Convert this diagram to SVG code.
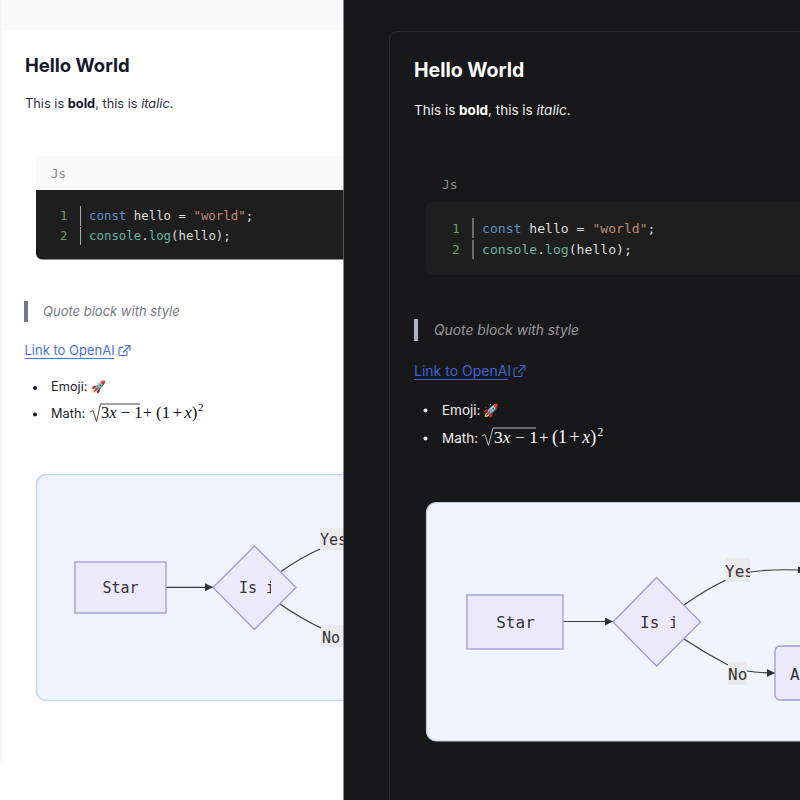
<svg xmlns="http://www.w3.org/2000/svg" width="800" height="800" viewBox="0 0 800 800">
<style>
text{font-family:"Inter","Noto Sans",sans-serif;white-space:pre}
.mono{font-family:"DejaVu Sans Mono","Liberation Mono",monospace}
.math{font-family:"Liberation Serif","DejaVu Serif",serif}
.mvar{font-style:italic}
.node{fill:#ece9fb;stroke:#a396dc;stroke-width:1.3}
.edge{fill:none;stroke:#3c3c3c;stroke-width:1.2}
.lbl{fill:#eaeaea}
.nt{fill:#333;font-size:15px}
.num{fill:#6f9a5f}.kw{fill:#5f93c8}.fn{fill:#66b5a0}.str{fill:#c08a70}
</style>
<defs>
<marker id="arr" markerWidth="10" markerHeight="10" refX="8" refY="4" orient="auto" markerUnits="userSpaceOnUse"><path d="M0 0L8 4L0 8z" fill="#333"/></marker>
<clipPath id="clipLeft"><rect x="0" y="0" width="343.5" height="800"/></clipPath>
<clipPath id="clipIsL"><rect x="230" y="570" width="41" height="40"/></clipPath>
<clipPath id="clipIsR"><rect x="640" y="605" width="35" height="40"/></clipPath>
<clipPath id="clipYesR"><rect x="720" y="555" width="30" height="30"/></clipPath>
</defs>
<rect id="page" width="800" height="800" fill="#fff"/>
<rect x="0" y="0" width="344" height="30" fill="#f9f9fa"/>
<rect x="0" y="0" width="2" height="761" fill="#f3f3f4"/>
<g id="light-panel" clip-path="url(#clipLeft)">
<g id="light-text">
<text x="25" y="72" font-size="18.500" font-weight="700" fill="#14182b">Hello World</text>
<text x="25" y="108" font-size="12.800" fill="#2a2d3a">This is <tspan font-weight="700" fill="#14182b">bold</tspan>, this is <tspan font-style="italic">italic</tspan>.</text>
</g>
<g id="light-code">
<path d="M36 190V162a6 6 0 0 1 6-6H344V190z" fill="#f9f9fa"/>
<text class="mono" x="51" y="178" font-size="12.400" fill="#8a8a8a">Js</text>
<path d="M36 190H344V259.500H42a6 6 0 0 1-6-6z" fill="#1e1e1e"/>
<text class="mono num" x="60" y="220" font-size="12.400">1</text>
<text class="mono num" x="60" y="240" font-size="12.400">2</text>
<path d="M80.500 206V226M80.500 227V245" stroke="#aaa" stroke-width="1" fill="none"/>
<text class="mono" x="89" y="220" font-size="12.400" fill="#ddd"><tspan class="kw">const</tspan> hello = <tspan class="str">"world"</tspan>;</text>
<text class="mono" x="89" y="240" font-size="12.400" fill="#ddd"><tspan class="fn">console</tspan>.<tspan class="fn">log</tspan>(hello);</text>
</g>
<g id="light-rich">
<rect x="24" y="301" width="4" height="21" fill="#6f788c"/>
<text x="43" y="316" font-size="13" font-style="italic" fill="#767a82">Quote block with style</text>
<text x="24.500" y="355" font-size="13" fill="#4a72de">Link to OpenAI</text>
<rect x="24.500" y="358" width="89.500" height="1" fill="#4a72de"/>
<path d="M127 351v3.500a1 1 0 0 1-1 1h-6a1 1 0 0 1-1-1v-6a1 1 0 0 1 1-1h3.500M124.500 345.500h5.500v5.500M130 345.500L123 352.500" fill="none" stroke="#4a72de" stroke-width="1.100"/>
<circle cx="35" cy="388" r="2" fill="#14182b"/>
<text x="51" y="391" font-size="12.800" fill="#22242e">Emoji:</text>
<text x="90.500" y="391" font-size="12">🚀</text>
<circle cx="35" cy="414.500" r="2" fill="#14182b"/>
<text x="51" y="418" font-size="12.800" fill="#22242e">Math:</text>
<path d="M90 412l3 -1.500l3.500 11l4 -17.500H140" fill="none" stroke="#333" stroke-width="0.900"/>
<text class="math" x="101" y="418" font-size="16.500" fill="#111">3<tspan class="mvar">x</tspan> − 1</text>
<text class="math" x="143" y="418" font-size="16" fill="#111">+</text>
<text class="math" x="156" y="418" font-size="17" word-spacing="-2" fill="#111">(1 + <tspan class="mvar">x</tspan>)</text>
<text class="math" x="198" y="411" font-size="11" fill="#111">2</text>
</g>
<g id="light-diagram">
<rect x="36.500" y="474.500" width="340" height="226" rx="10" fill="#eff3fe" stroke="#c5d5f0" stroke-width="1.500"/>
<g id="connectors-light">
<path class="edge" d="M166 587.300H213" marker-end="url(#arr)"/>
<path class="edge" d="M281 571.500Q300 558 320 549"/>
<path class="edge" d="M280 604Q300 618 323 629"/>
</g>
<g id="l-start"><rect class="node" x="75" y="562" width="91" height="51"/><text class="mono nt" x="120.500" y="593" text-anchor="middle">Star</text></g>
<g id="l-decision"><path class="node" d="M213 587.500L254.500 546L296 587.500L254.500 629.500z"/><text class="mono nt" x="239" y="593" clip-path="url(#clipIsL)">Is i</text></g>
<g id="l-yes"><rect class="lbl" x="320" y="528" width="30" height="22"/><text class="mono nt" x="320" y="545">Yes</text></g>
<g id="l-no"><rect class="lbl" x="321" y="625" width="30" height="22"/><text class="mono nt" x="322" y="643">No</text></g>
</g>
</g>
<rect id="dark-panel" x="343.500" y="0" width="456.500" height="800" fill="#18181a"/>
<rect x="389.500" y="31.500" width="440" height="800" rx="8" fill="#18181a" stroke="#2b2b2e"/>
<g id="dark-text">
<text x="414" y="77" font-size="19.500" font-weight="700" fill="#fff">Hello World</text>
<text x="414" y="115" font-size="13.500" fill="#eee">This is <tspan font-weight="700" fill="#fff">bold</tspan>, this is <tspan font-style="italic">italic</tspan>.</text>
</g>
<g id="dark-code">
<text class="mono" x="442" y="189" font-size="13" fill="#8a8a8a">Js</text>
<path d="M800 202H432a6 6 0 0 0-6 6V269a6 6 0 0 0 6 6H800z" fill="#1e1e1f"/>
<text class="mono num" x="452" y="233" font-size="13">1</text>
<text class="mono num" x="452" y="254" font-size="13">2</text>
<path d="M473 218V238M473 240V259" stroke="#bbb" stroke-width="1" fill="none"/>
<text class="mono" x="482" y="233" font-size="13.100" fill="#ddd"><tspan class="kw">const</tspan> hello = <tspan class="str">"world"</tspan>;</text>
<text class="mono" x="482" y="254" font-size="13.100" fill="#ddd"><tspan class="fn">console</tspan>.<tspan class="fn">log</tspan>(hello);</text>
</g>
<g id="dark-rich">
<rect x="414" y="319" width="4" height="22" fill="#b0b5c6"/>
<text x="434" y="335" font-size="13.800" font-style="italic" fill="#9a9a9e">Quote block with style</text>
<text x="414" y="376" font-size="14" fill="#3f62d2">Link to OpenAI</text>
<rect x="414" y="379" width="94" height="1" fill="#3f62d2"/>
<path d="M522 372v3.500a1 1 0 0 1-1 1h-6a1 1 0 0 1-1-1v-6.500a1 1 0 0 1 1-1h3.500M519.500 365.500h5.500v5.500M525 365.500L518 372.500" fill="none" stroke="#3f62d2" stroke-width="1.100"/>
<circle cx="425.500" cy="410.500" r="2" fill="#fff"/>
<text x="442" y="415" font-size="13.500" fill="#eee">Emoji:</text>
<text x="483" y="415" font-size="13">🚀</text>
<circle cx="425.500" cy="438.500" r="2" fill="#fff"/>
<text x="442" y="443" font-size="13.500" fill="#eee">Math:</text>
<path d="M482 436l3 -1.500l3.500 11l4.500 -17.500H536" fill="none" stroke="#ccc" stroke-width="0.900"/>
<text class="math" x="494" y="443" font-size="17.500" fill="#fff">3<tspan class="mvar">x</tspan> − 1</text>
<text class="math" x="539" y="443" font-size="17" fill="#fff">+</text>
<text class="math" x="552" y="443" font-size="18" word-spacing="-2" fill="#fff">(1 + <tspan class="mvar">x</tspan>)</text>
<text class="math" x="597.500" y="436" font-size="11.500" fill="#fff">2</text>
</g>
<g id="dark-diagram">
<rect x="426.500" y="502.500" width="500" height="238.500" rx="10" fill="#eff4fe" stroke="#b9cdea" stroke-width="1.200"/>
<g id="connectors-dark">
<path class="edge" d="M563 621.500H613" marker-end="url(#arr)"/>
<path class="edge" d="M684 605Q705 590 726 580"/>
<path class="edge" d="M750 572Q770 569 800 570"/>
<path class="edge" d="M684 639Q705 653 728 665"/>
<path class="edge" d="M747 671Q758 673 775 673" marker-end="url(#arr)"/>
</g>
<rect x="798" y="567" width="2" height="6" fill="#333"/>
<g id="d-start"><rect class="node" x="467" y="595" width="96" height="54"/><text class="mono nt" x="515.500" y="628" text-anchor="middle" style="font-size:16px">Star</text></g>
<g id="d-decision"><path class="node" d="M613 622L656.500 577.500L700.500 622L656.500 666z"/><text class="mono nt" x="640" y="628" clip-path="url(#clipIsR)" style="font-size:16px">Is i</text></g>
<g id="d-yes"><rect class="lbl" x="725.500" y="558" width="25" height="24"/><text class="mono nt" x="725" y="577" clip-path="url(#clipYesR)" style="font-size:16px">Yes</text></g>
<g id="d-no"><rect class="lbl" x="728" y="662" width="19" height="23"/><text class="mono nt" x="728" y="680" style="font-size:16px">No</text></g>
<g id="d-a"><rect class="node" x="775" y="646" width="60" height="54" rx="5"/><text class="mono nt" x="790" y="680" style="font-size:16px">A</text></g>
</g>
</svg>
